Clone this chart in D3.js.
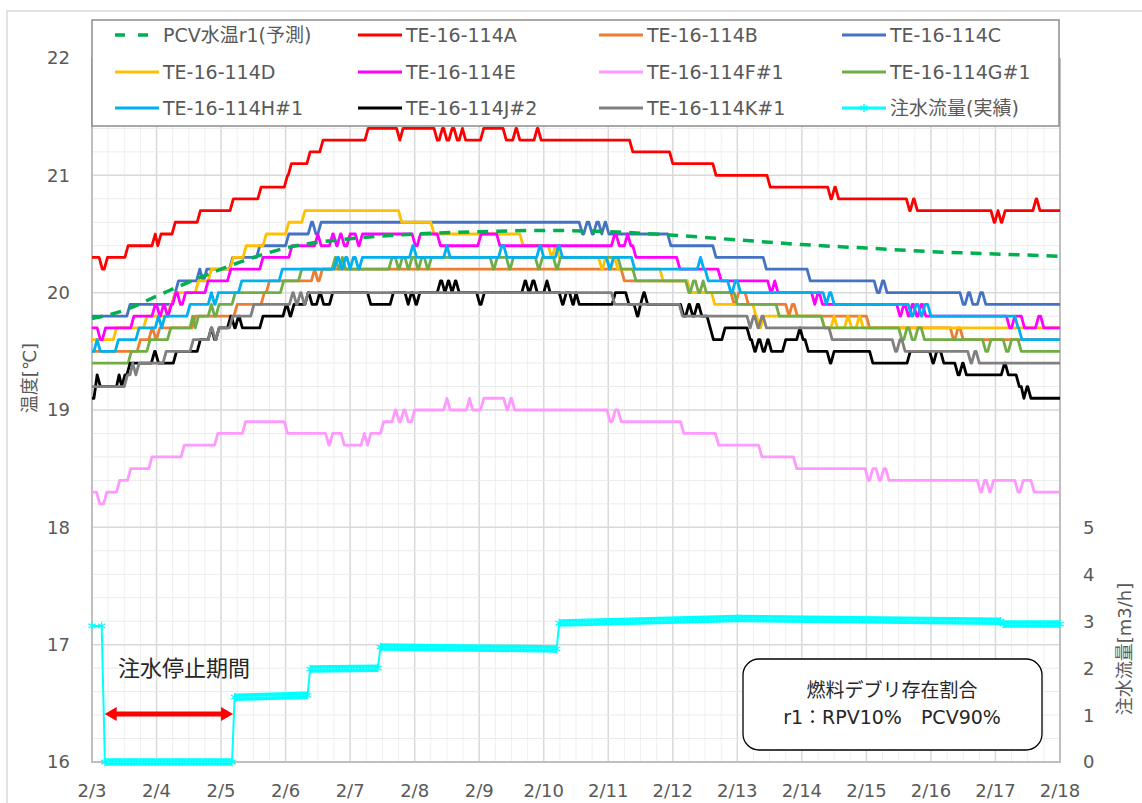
<!DOCTYPE html>
<html>
<head>
<meta charset="utf-8">
<script src="https://cdn.jsdelivr.net/npm/d3@7"></script>
<style>
  body { margin: 0; background: #fff; }
  text { font-family: "DejaVu Sans", "Noto Sans CJK JP", sans-serif; }
</style>
</head>
<body>
<svg id="chart" width="1142" height="803"></svg>
<script>
// time = days since 2/3 00:00 ; each temperature series lists [time, value] where the reading changes
const dayLabels = ['2/3','2/4','2/5','2/6','2/7','2/8','2/9','2/10','2/11','2/12','2/13','2/14','2/15','2/16','2/17','2/18'];

const seriesNames = ['TE-16-114A','TE-16-114B','TE-16-114C','TE-16-114D','TE-16-114E','TE-16-114F#1',
  'TE-16-114G#1','TE-16-114H#1','TE-16-114J#2','TE-16-114K#1'];
const seriesColors = ['#FF0000','#ED7D31','#4472C4','#FFC000','#FF00FF','#FF99FF','#70AD47','#00B0F0','#000000','#808080'];

const teA = [[0,20.3],[0.11,20.2],[0.19,20.3],[0.51,20.4],[0.93,20.5],[0.98,20.4],[1.02,20.5],[1.24,20.6],[1.63,20.7],
  [2.14,20.8],[2.57,20.9],[2.98,21.0],[3.04,21.1],[3.33,21.2],[3.53,21.3],[4.23,21.4],[4.72,21.3],[4.77,21.4],
  [5.3,21.3],[5.38,21.4],[5.45,21.3],[5.53,21.4],[5.61,21.3],[5.69,21.4],[5.74,21.3],[6.02,21.4],[6.37,21.3],
  [6.52,21.4],[6.58,21.3],[6.85,21.4],[6.91,21.3],[8.33,21.2],[8.95,21.1],[9.62,21.0],[10.46,20.9],[11.4,20.8],
  [11.46,20.9],[11.52,20.8],[12.62,20.7],[12.68,20.8],[12.74,20.7],[13.93,20.6],[13.99,20.7],[14.04,20.6],
  [14.1,20.7],[14.58,20.8],[14.64,20.7]];
const teB = [[0,19.5],[0.7,19.6],[0.88,19.7],[0.94,19.6],[1.0,19.7],[1.55,19.8],[2.2,19.9],[2.62,20.0],[2.7,20.1],
  [3.4,20.2],[3.45,20.1],[3.52,20.2],[8.2,20.1],[9.22,20.0],[9.9,19.9],[9.97,20.0],[10.12,19.9],[10.75,19.8],
  [10.8,19.9],[10.88,19.8],[12.0,19.7],[13.3,19.6],[13.37,19.7],[13.45,19.6]];
const teC = [[0,19.8],[0.54,19.9],[1.24,20.0],[1.29,20.1],[1.62,20.2],[1.67,20.1],[1.73,20.2],[2.13,20.3],[2.55,20.4],
  [3.0,20.5],[3.35,20.6],[3.42,20.5],[3.5,20.6],[7.55,20.5],[7.62,20.6],[7.7,20.5],[7.77,20.6],[7.85,20.5],
  [7.9,20.6],[7.96,20.5],[8.92,20.4],[9.62,20.3],[10.4,20.2],[11.08,20.1],[12.12,20.0],[12.2,20.1],[12.27,20.0],
  [13.45,19.9],[13.53,20.0],[13.6,19.9],[13.72,20.0],[13.8,19.9]];
const teD = [[0,19.6],[0.33,19.7],[0.8,19.8],[1.17,19.9],[1.24,20.0],[1.6,20.1],[1.8,20.2],[2.14,20.3],[2.34,20.4],
  [2.65,20.5],[3.0,20.6],[3.25,20.7],[4.75,20.6],[5.25,20.5],[6.63,20.4],[7.07,20.3],[7.13,20.4],[7.19,20.3],
  [7.85,20.2],[7.91,20.3],[7.98,20.2],[8.04,20.3],[8.1,20.2],[8.8,20.1],[9.22,20.0],[9.6,19.9],[10.24,19.8],
  [10.3,19.7],[10.36,19.8],[11.3,19.7],[11.45,19.8],[11.5,19.7],[11.66,19.8],[11.72,19.7],[11.84,19.8],[11.9,19.7]];
const teE = [[0,19.7],[0.08,19.6],[0.16,19.7],[0.6,19.8],[0.93,19.9],[1.0,19.8],[1.06,19.9],[1.12,19.8],[1.18,19.9],
  [1.25,20.0],[1.32,19.9],[1.4,20.0],[1.75,20.1],[2.1,20.2],[2.6,20.3],[3.05,20.4],[3.45,20.5],[3.5,20.4],
  [3.68,20.5],[3.74,20.4],[3.8,20.5],[3.86,20.4],[3.95,20.5],[4.08,20.4],[4.14,20.5],[4.96,20.4],[5.04,20.5],
  [5.35,20.4],[5.98,20.5],[6.27,20.4],[8.05,20.5],[8.12,20.4],[8.25,20.5],[8.3,20.4],[8.38,20.3],[9.06,20.2],
  [9.7,20.1],[10.47,20.0],[10.53,20.1],[10.58,20.0],[11.15,19.9],[11.2,20.0],[11.27,19.9],[12.47,19.8],
  [12.53,19.9],[12.6,19.8],[12.66,19.9],[12.73,19.8],[12.8,19.9],[12.87,19.8],[14.17,19.7],[14.25,19.8],
  [14.4,19.7],[14.62,19.8],[14.7,19.7]];
const teF = [[0,18.3],[0.07,18.2],[0.18,18.3],[0.38,18.4],[0.55,18.5],[0.88,18.6],[1.38,18.7],[1.9,18.8],[2.33,18.9],
  [2.98,18.8],[3.62,18.7],[3.68,18.8],[3.86,18.7],[4.17,18.8],[4.22,18.7],[4.27,18.8],[4.47,18.9],[4.65,19.0],
  [4.71,18.9],[4.78,19.0],[4.85,18.9],[4.95,19.0],[5.45,19.1],[5.5,19.0],[5.8,19.1],[5.85,19.0],[6.02,19.1],
  [6.38,19.0],[6.44,19.1],[6.5,19.0],[7.98,18.9],[8.06,19.0],[8.15,18.9],[9.12,18.8],[9.66,18.7],[10.33,18.6],
  [10.87,18.5],[11.98,18.4],[12.05,18.5],[12.15,18.4],[12.22,18.5],[12.3,18.4],[13.72,18.3],[13.78,18.4],
  [13.86,18.3],[13.92,18.4],[14.3,18.3],[14.38,18.4],[14.55,18.3]];
const teG = [[0,19.4],[0.56,19.5],[0.85,19.6],[1.17,19.7],[1.52,19.8],[1.56,19.7],[1.6,19.8],[1.8,19.9],[1.85,19.8],
  [1.92,19.9],[2.17,20.0],[2.92,20.1],[3.2,20.2],[3.72,20.3],[3.77,20.2],[3.83,20.3],[3.88,20.2],[4.6,20.3],
  [4.7,20.2],[4.76,20.3],[4.85,20.2],[4.91,20.3],[5.0,20.2],[5.06,20.3],[5.15,20.2],[5.21,20.3],[6.17,20.2],
  [6.23,20.3],[6.42,20.2],[6.48,20.3],[6.87,20.2],[6.93,20.3],[7.15,20.2],[7.21,20.3],[8.15,20.2],[8.38,20.1],
  [9.2,20.0],[9.27,20.1],[9.35,20.0],[9.42,20.1],[9.47,20.0],[9.95,19.9],[10.6,19.8],[11.3,19.7],[12.5,19.6],
  [12.58,19.7],[12.66,19.6],[12.75,19.7],[12.85,19.6],[13.8,19.5],[13.88,19.6],[14.12,19.5],[14.2,19.6],[14.35,19.5]];
const teH = [[0,19.5],[0.03,19.6],[0.08,19.5],[0.36,19.6],[0.68,19.7],[0.98,19.8],[1.03,19.7],[1.08,19.8],[1.47,19.9],
  [1.8,20.0],[1.85,19.9],[1.91,20.0],[2.27,20.1],[2.9,20.2],[3.75,20.3],[3.82,20.2],[3.88,20.3],[3.95,20.2],
  [4.0,20.3],[4.08,20.2],[4.14,20.3],[4.92,20.4],[4.98,20.3],[5.45,20.4],[5.5,20.3],[6.3,20.4],[6.38,20.3],
  [6.89,20.4],[6.95,20.3],[7.18,20.4],[7.24,20.3],[7.97,20.2],[8.03,20.3],[8.36,20.2],[9.38,20.3],[9.43,20.2],
  [9.5,20.1],[9.85,20.0],[9.92,20.1],[10.0,20.0],[11.33,19.9],[11.38,20.0],[11.45,19.9],[12.65,19.8],[12.72,19.9],
  [12.8,19.8],[12.86,19.9],[12.95,19.8],[14.3,19.7],[14.36,19.6]];
const teJ = [[0,19.1],[0.03,19.3],[0.08,19.2],[0.38,19.3],[0.42,19.2],[0.46,19.3],[0.54,19.4],[0.92,19.5],[0.98,19.4],
  [1.26,19.5],[1.63,19.6],[1.8,19.7],[1.85,19.6],[1.92,19.7],[2.1,19.8],[2.16,19.7],[2.22,19.8],[2.28,19.7],
  [2.6,19.8],[2.96,19.9],[3.02,19.8],[3.08,19.9],[3.3,20.0],[3.36,19.9],[3.48,20.0],[3.54,19.9],[3.68,20.0],
  [4.27,19.9],[4.62,20.0],[4.85,19.9],[4.9,20.0],[4.97,19.9],[5.03,20.0],[5.35,20.1],[5.42,20.0],[5.47,20.1],
  [5.53,20.0],[5.58,20.1],[5.64,20.0],[5.96,19.9],[6.03,20.0],[6.66,20.1],[6.72,20.0],[6.78,20.1],[6.85,20.0],
  [7.0,20.1],[7.05,20.0],[7.24,19.9],[7.3,20.0],[7.4,19.9],[7.46,20.0],[7.5,19.9],[8.06,20.0],[8.27,19.9],
  [8.4,19.8],[8.46,19.9],[8.5,20.0],[8.56,19.9],[9.12,19.8],[9.2,19.9],[9.26,19.8],[9.33,19.9],[9.4,19.8],
  [9.53,19.7],[9.58,19.6],[9.76,19.7],[10.15,19.6],[10.22,19.5],[10.28,19.6],[10.35,19.5],[10.42,19.6],
  [10.48,19.5],[10.7,19.6],[10.92,19.7],[10.97,19.6],[11.05,19.5],[11.39,19.4],[11.45,19.5],[12.05,19.4],
  [12.63,19.5],[12.98,19.4],[13.04,19.5],[13.15,19.4],[13.37,19.3],[13.44,19.4],[13.5,19.3],[14.09,19.4],
  [14.15,19.3],[14.32,19.2],[14.4,19.1],[14.44,19.2],[14.5,19.1]];
const teK = [[0,19.2],[0.5,19.3],[0.59,19.4],[0.63,19.3],[0.68,19.4],[1.1,19.5],[1.52,19.6],[1.8,19.7],[1.86,19.6],
  [1.92,19.7],[2.13,19.8],[2.46,19.9],[3.06,20.0],[3.12,19.9],[3.18,20.0],[3.24,19.9],[3.3,20.0],[8.05,19.9],
  [9.1,19.8],[10.15,19.7],[10.2,19.8],[10.27,19.7],[10.33,19.8],[10.4,19.7],[11.42,19.6],[12.4,19.5],[12.47,19.6],
  [12.55,19.5],[13.57,19.4],[13.63,19.5],[13.7,19.4]];
const teSeries = [teA, teB, teC, teD, teE, teF, teG, teH, teJ, teK];

// predicted PCV water temperature (r1)
const pcvT = [0, 0.5, 1, 1.5, 2, 2.5, 3, 4, 5, 6, 7, 8, 9, 10, 11, 12, 13, 14, 15];
const pcvV = [19.78, 19.85, 19.97, 20.09, 20.2, 20.3, 20.38, 20.46, 20.5, 20.52, 20.53, 20.52, 20.49, 20.45, 20.41, 20.38, 20.35, 20.33, 20.31];

// injection flow [m3/h]
const flowT = [0, 0.15, 0.2, 2.17, 2.21, 3.34, 3.38, 4.43, 4.47, 7.2, 7.24, 10.0, 14.08, 14.12, 15];
const flowQ = [2.9, 2.9, 0, 0, 1.38, 1.42, 1.98, 2.0, 2.45, 2.41, 2.96, 3.06, 3.0, 2.94, 2.94];

const svg = d3.select('#chart');
const plotL = 92, plotR = 1060, plotT = 58, plotB = 762;

const x = d3.scaleLinear().domain([0, 15]).range([plotL, plotR]);
const y = d3.scaleLinear().domain([16, 22]).range([plotB, plotT]);
const yR = d3.scaleLinear().domain([0, 15]).range([plotB, plotT]);

// outer chart border
svg.append('rect').attr('x', 7).attr('y', 11).attr('width', 1200).attr('height', 900)
  .attr('fill', 'none').attr('stroke', '#D9D9D9').attr('stroke-width', 1.5);

// gridlines
const grid = svg.append('g');
d3.range(0, 15.01, 0.25).forEach(d => {
  const major = Math.abs(d - Math.round(d)) < 1e-6;
  grid.append('line').attr('x1', x(d)).attr('x2', x(d)).attr('y1', plotT).attr('y2', plotB)
    .attr('stroke', major ? '#D9D9D9' : '#EFEFEF').attr('stroke-width', major ? 1.5 : 1);
});
d3.range(16, 22.01, 0.2).forEach(d => {
  const major = Math.abs(d - Math.round(d)) < 1e-6;
  grid.append('line').attr('x1', plotL).attr('x2', plotR).attr('y1', y(d)).attr('y2', y(d))
    .attr('stroke', major ? '#D9D9D9' : '#EBEBEB').attr('stroke-width', major ? 1.5 : 1);
});

// plot frame
svg.append('path')
  .attr('d', `M${plotL},${plotT}V${plotB}H${plotR}V${plotT}`)
  .attr('fill', 'none').attr('stroke', '#BFBFBF').attr('stroke-width', 2);

// axes labels
const tickColor = '#595959';
d3.range(16, 23).forEach(v => {
  svg.append('text').attr('x', 70).attr('y', y(v)).attr('dy', '0.36em')
    .attr('text-anchor', 'end').attr('font-size', 18).attr('fill', tickColor).text(v);
});
d3.range(0, 6).forEach(v => {
  svg.append('text').attr('x', 1083).attr('y', yR(v)).attr('dy', '0.36em')
    .attr('font-size', 18).attr('fill', tickColor).text(v);
});
dayLabels.forEach((lab, i) => {
  svg.append('text').attr('x', x(i)).attr('y', 791).attr('dy', '0.36em')
    .attr('text-anchor', 'middle').attr('font-size', 18).attr('fill', tickColor).text(lab);
});
svg.append('text').attr('transform', 'translate(30,378) rotate(-90)')
  .attr('text-anchor', 'middle').attr('dy', '0.36em').attr('font-size', 18)
  .attr('font-family', '"Noto Sans CJK JP"').attr('fill', tickColor).text('温度[℃]');
svg.append('text').attr('transform', 'translate(1125,649) rotate(-90)')
  .attr('text-anchor', 'middle').attr('dy', '0.36em').attr('font-size', 18).attr('fill', tickColor).text('注水流量[m3/h]');

// temperature series: readings change at given times, ramping over a short interval
const RAMP = 0.05;
const stepPoints = runs => {
  const pts = [[runs[0][0], runs[0][1]]];
  for (let i = 1; i < runs.length; i++) {
    const next = i + 1 < runs.length ? runs[i + 1][0] : 15;
    pts.push([runs[i][0], runs[i - 1][1]]);
    pts.push([runs[i][0] + Math.min(RAMP, next - runs[i][0]), runs[i][1]]);
  }
  pts.push([15, runs[runs.length - 1][1]]);
  return pts;
};
const line = d3.line().x(d => x(d[0])).y(d => y(d[1]));

teSeries.forEach((runs, i) => {
  svg.append('path').datum(stepPoints(runs))
    .attr('d', line).attr('fill', 'none')
    .attr('stroke', seriesColors[i]).attr('stroke-width', 2.8)
    .attr('stroke-linejoin', 'round');
});

// predicted curve
svg.append('path').datum(pcvT.map((t, i) => [t, pcvV[i]]))
  .attr('d', d3.line().x(d => x(d[0])).y(d => y(d[1])).curve(d3.curveMonotoneX))
  .attr('fill', 'none').attr('stroke', '#00B050').attr('stroke-width', 3.5)
  .attr('stroke-dasharray', '11,8');

// flow
const flowPts = flowT.map((t, i) => [t, flowQ[i]]);
const flowLine = d3.line().x(d => x(d[0])).y(d => yR(d[1]));
const cyan = '#00FFFF';
svg.append('path').datum(flowPts).attr('d', flowLine)
  .attr('fill', 'none').attr('stroke', cyan).attr('stroke-width', 2);
for (let i = 0; i < flowPts.length - 1; i++) {
  if (flowPts[i + 1][0] - flowPts[i][0] > 0.3) {
    svg.append('path').datum([flowPts[i], flowPts[i + 1]]).attr('d', flowLine)
      .attr('fill', 'none').attr('stroke', cyan).attr('stroke-width', 7.5);
    svg.append('path').datum([flowPts[i], flowPts[i + 1]]).attr('d', flowLine)
      .attr('fill', 'none').attr('stroke', '#7FFFFF').attr('stroke-width', 1)
      .attr('stroke-dasharray', '1,2');
  }
}
const star = d3.symbol().type(d3.symbolAsterisk).size(50);
svg.selectAll('path.fmark').data(flowPts).enter().append('path').attr('class', 'fmark')
  .attr('d', star).attr('transform', d => `translate(${x(d[0])},${yR(d[1])})`)
  .attr('fill', 'none').attr('stroke', cyan).attr('stroke-width', 1.2);

// injection stop annotation
svg.append('text').attr('x', 118).attr('y', 676).attr('font-size', 22)
  .attr('font-family', '"Noto Sans CJK JP"').attr('fill', '#262626').text('注水停止期間');
const ay = 714, ax1 = x(flowT[1]) + 3, ax2 = x(flowT[3]) + 1;
svg.append('line').attr('x1', ax1 + 8).attr('x2', ax2 - 8).attr('y1', ay).attr('y2', ay)
  .attr('stroke', '#FF0000').attr('stroke-width', 5);
svg.append('path').attr('d', `M${ax1},${ay}L${ax1 + 12},${ay - 7}L${ax1 + 12},${ay + 7}Z`).attr('fill', '#FF0000');
svg.append('path').attr('d', `M${ax2},${ay}L${ax2 - 12},${ay - 7}L${ax2 - 12},${ay + 7}Z`).attr('fill', '#FF0000');

// note box
svg.append('rect').attr('x', 743).attr('y', 659).attr('width', 299).attr('height', 91).attr('rx', 16)
  .attr('fill', '#fff').attr('stroke', '#000').attr('stroke-width', 1.3);
svg.append('text').attr('x', 892).attr('y', 697).attr('text-anchor', 'middle').attr('font-size', 19)
  .attr('font-family', '"Noto Sans CJK JP"').attr('fill', '#262626').text('燃料デブリ存在割合');
svg.append('text').attr('x', 892).attr('y', 724).attr('text-anchor', 'middle').attr('font-size', 19)
  .attr('fill', '#262626').text('r1：RPV10%　PCV90%');

// legend
const lg = svg.append('g');
lg.append('rect').attr('x', 92).attr('y', 20).attr('width', 967).attr('height', 106)
  .attr('fill', '#fff').attr('stroke', '#8C8C8C').attr('stroke-width', 1.5);
const legendItems = [{ name: 'PCV水温r1(予測)', color: '#00B050', dash: true }]
  .concat(seriesNames.map((n, i) => ({ name: n, color: seriesColors[i] })))
  .concat([{ name: '注水流量(実績)', color: cyan, marker: true }]);
const colX = [115, 358, 599, 842];
const rowY = [35, 72, 108];
legendItems.forEach((d, i) => {
  const cx = colX[i % 4], cy = rowY[Math.floor(i / 4)];
  lg.append('line').attr('x1', cx).attr('x2', cx + 44).attr('y1', cy).attr('y2', cy)
    .attr('stroke', d.color).attr('stroke-width', d.dash ? 3.5 : 3)
    .attr('stroke-dasharray', d.dash ? '10,13' : null);
  if (d.marker) {
    lg.append('path').attr('d', star).attr('transform', `translate(${cx + 22},${cy})`)
      .attr('fill', 'none').attr('stroke', cyan).attr('stroke-width', 1.5);
  }
  lg.append('text').attr('x', cx + 48).attr('y', cy).attr('dy', '0.36em')
    .attr('font-size', 19).attr('fill', tickColor).text(d.name);
});
</script>
</body>
</html>
